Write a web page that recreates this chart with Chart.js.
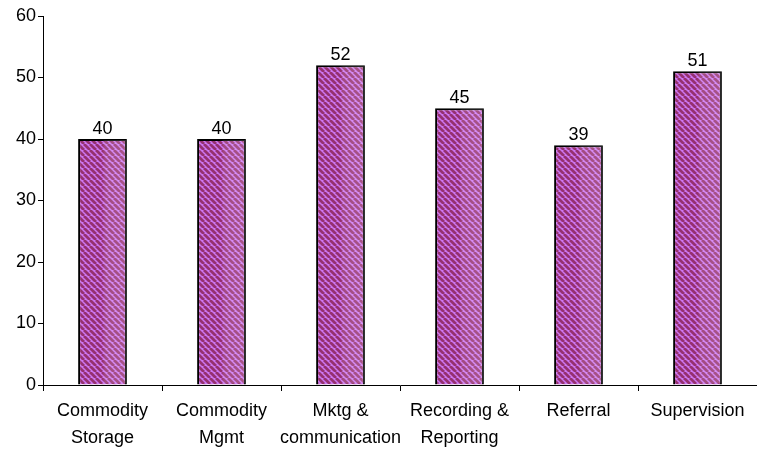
<!DOCTYPE html>
<html>
<head>
<meta charset="utf-8">
<script src="https://cdn.jsdelivr.net/npm/chart.js@4.4.1/dist/chart.umd.min.js"></script>
<style>
  html, body { margin: 0; padding: 0; background: #fff; }
  #wrap { width: 757px; height: 451px; }
</style>
</head>
<body>
<div id="wrap"><canvas id="chart" width="757" height="451"></canvas></div>
<script>
// data
const categories = [
  ["Commodity", "Storage"],
  ["Commodity", "Mgmt"],
  ["Mktg &", "communication"],
  ["Recording &", "Reporting"],
  ["Referral"],
  ["Supervision"]
];
const scores = [40, 40, 52, 45, 39, 51];
const yTicks = [0, 10, 20, 30, 40, 50, 60];

const FONT = "'Liberation Sans', Arial, sans-serif";

// diagonal stripe fill like the old office hatch
function makeStripes() {
  const c = document.createElement("canvas");
  c.width = 6; c.height = 6;
  const g = c.getContext("2d");
  g.fillStyle = "#cc77f2";
  g.fillRect(0, 0, 6, 6);
  g.strokeStyle = "#963070";
  g.lineWidth = 2.8;
  g.beginPath();
  for (let k = -6; k <= 12; k += 6) {
    g.moveTo(k, 0);
    g.lineTo(k + 6, 6);
  }
  g.stroke();
  return g.createPattern(c, "repeat");
}

const labelPlugin = {
  id: "valueLabels",
  afterDatasetsDraw(chart) {
    const ctx = chart.ctx;
    const meta = chart.getDatasetMeta(0);
    ctx.save();
    meta.data.forEach((bar, i) => {
      // soft highlight on the right side of each bar
      const w = bar.width;
      const x0 = bar.x - w / 2;
      const grad = ctx.createLinearGradient(x0, 0, x0 + w, 0);
      grad.addColorStop(0, "rgba(255,255,255,0)");
      grad.addColorStop(0.5, "rgba(255,255,255,0)");
      grad.addColorStop(0.55, "rgba(255,255,255,0.12)");
      grad.addColorStop(1, "rgba(255,255,255,0.18)");
      ctx.fillStyle = grad;
      ctx.fillRect(x0 + 1, bar.y + 1, w - 2, bar.base - bar.y - 2);

      ctx.fillStyle = "#000";
      ctx.font = "18px " + FONT;
      ctx.textAlign = "center";
      ctx.textBaseline = "bottom";
      ctx.fillText(scores[i], bar.x, bar.y - 1);
    });
    ctx.restore();
  }
};

new Chart(document.getElementById("chart"), {
  type: "bar",
  data: {
    labels: categories,
    datasets: [{
      data: scores,
      backgroundColor: makeStripes(),
      borderColor: "#000",
      borderWidth: 2,
      borderSkipped: "bottom",
      barPercentage: 0.41,
      categoryPercentage: 1.0
    }]
  },
  options: {
    responsive: false,
    animation: false,
    layout: { padding: { top: 16, right: 0, left: 0, bottom: 0 } },
    plugins: { legend: { display: false }, tooltip: { enabled: false } },
    scales: {
      x: {
        offset: true,
        grid: {
          display: true,
          offset: true,
          drawOnChartArea: false,
          drawTicks: true,
          tickLength: 6,
          color: "#000"
        },
        border: { display: true, color: "#000", width: 1 },
        ticks: {
          color: "#000",
          font: { family: FONT, size: 18, lineHeight: 1.5 },
          maxRotation: 0,
          autoSkip: false,
          padding: 7
        },
        afterFit(scale) { scale.height = 66; }
      },
      y: {
        min: 0,
        max: 60,
        afterBuildTicks(scale) { scale.ticks = yTicks.map(v => ({ value: v })); },
        grid: {
          display: true,
          drawOnChartArea: false,
          drawTicks: true,
          tickLength: 5,
          color: "#000"
        },
        border: { display: true, color: "#000", width: 1 },
        ticks: {
          color: "#000",
          font: { family: FONT, size: 18 },
          padding: 2
        },
        afterFit(scale) { scale.width = 43; }
      }
    }
  },
  plugins: [labelPlugin]
});
</script>
</body>
</html>
